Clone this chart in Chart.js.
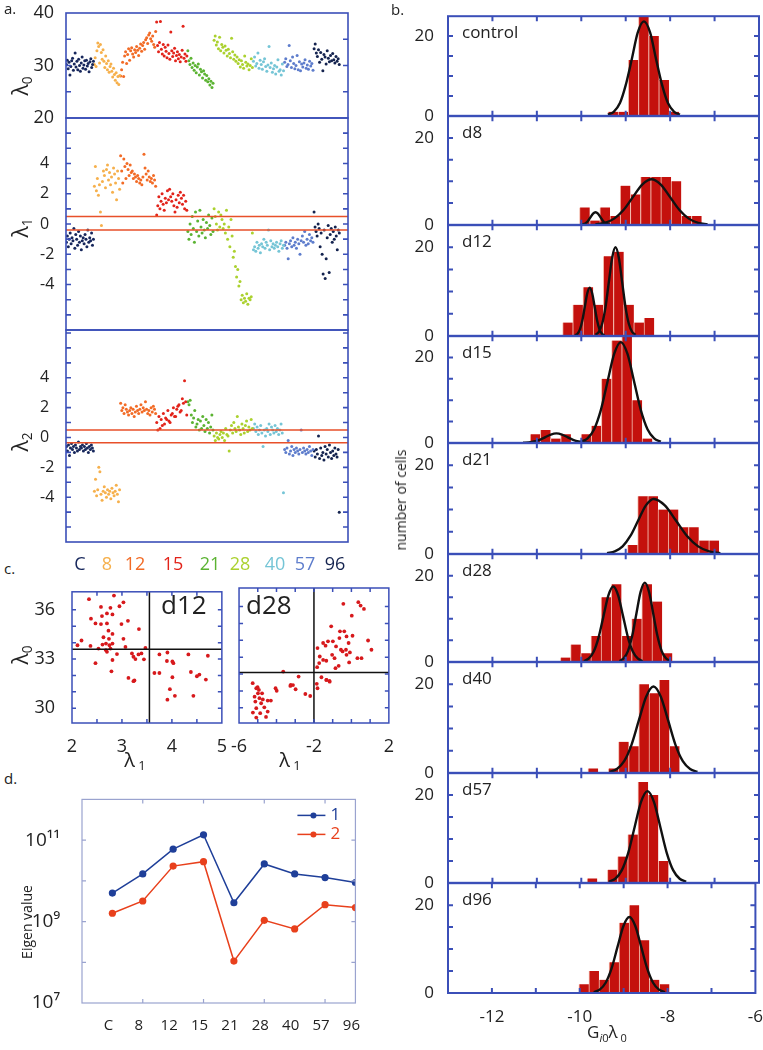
<!DOCTYPE html>
<html>
<head>
<meta charset="utf-8">
<script src="https://cdn.jsdelivr.net/npm/chart.js@4/dist/chart.umd.min.js"></script>
<style>
body { margin: 0; background: #fff; }
#fig { position: relative; width: 763px; height: 1050px; overflow: hidden; font-family: 'Open Sans', sans-serif; color: #222; }
#fig canvas { position: absolute; }
.t { position: absolute; white-space: nowrap; line-height: 1; z-index: 2; }
.c { transform: translate(-50%, -50%); }
.rot { transform: translate(-50%, -50%) rotate(-90deg); }
sub { font-size: 0.65em; vertical-align: -0.3em; }
</style>
</head>
<body>
<div id="fig"></div>
<script>
// ---- panel a: per-cell eigenvalues, grouped by day ----
const days = ['C', '8', '12', '15', '21', '28', '40', '57', '96'];
const dayColors = ['#17275c', '#f6b04c', '#f26b26', '#e2231a', '#5bb332', '#abd12f', '#75c5d6', '#5e7dcc', '#14234f'];
const dayLabelPos = [8, 24.5, 41.6, 64.8, 87.3, 105.6, 127, 145.3, 163.6];
const groupSpan = [17, 16, 22, 19, 16, 24, 19, 18, 16];   // width of each day block, in cell-index units

const lam0 = [
  [30.2,31.0,29.4,30.6,28.2,29.8,30.9,31.4,29.1,30.3,32.4,29.7,30.8,29.2,31.2,30.0,28.9,30.5,31.6,29.5,30.1,30.9,29.3,31.0,29.9,30.4,28.8,30.7,31.3,29.6,30.2,30.8],
  [30.2,31.5,29.8,32.8,34.3,33.6,30.5,34.0,32.5,31.2,33.0,30.8,29.6,31.8,30.4,29.2,30.9,28.7,29.8,30.3,28.9,27.8,29.5,28.3,27.2,28.6,26.7,27.9,26.4,28.1],
  [28.0,29.2,30.6,27.9,31.8,32.6,30.4,32.1,33.2,31.0,32.8,33.4,32.2,31.6,33.0,32.5,33.6,32.9,31.9,33.3,34.1,32.7,33.8,34.4,33.1,34.9,35.3,34.2,35.8,36.2,35.1,34.6,35.6,34.0,33.5,36.5],
  [38.3,33.8,32.6,34.4,38.4,33.1,32.2,34.0,31.8,33.5,32.7,31.5,33.9,32.3,31.2,36.4,32.8,31.7,32.4,33.3,30.9,31.9,32.6,31.3,32.1,30.7,31.6,32.9,37.5,31.4,32.2,30.8,31.8],
  [32.8,30.9,30.2,31.4,29.6,30.5,29.1,30.0,28.6,29.7,30.3,28.2,29.3,28.8,27.6,29.0,28.4,27.2,28.1,26.9,27.5,26.3,27.0,25.8,26.6],
  [34.8,35.6,33.9,34.5,33.2,35.4,32.8,34.0,33.5,32.4,33.7,32.9,31.8,33.1,32.3,31.5,35.2,32.6,31.2,32.0,30.8,31.6,30.4,31.1,29.7,30.9,30.2,29.5,31.8,30.6,29.9,30.3,29.2,30.0,31.3,29.6],
  [30.8,31.6,29.9,30.4,32.4,29.5,31.0,30.2,29.3,30.7,31.3,29.8,28.9,30.1,33.6,29.6,30.5,28.7,29.4,30.0,28.4,29.7,31.1,28.9,29.2,28.2,30.3,29.0],
  [30.6,31.3,29.8,30.2,33.8,30.9,29.6,31.6,30.4,29.4,30.0,31.9,29.2,30.7,29.0,30.3,29.7,30.5,31.1,29.5,30.1,29.3,30.8,29.9,30.4,29.1],
  [33.2,34.1,32.4,31.7,33.0,30.6,32.5,31.2,29.0,32.1,31.6,30.3,32.8,31.4,30.7,31.9,30.9,32.3,31.1,30.5,31.7,30.8,31.3,30.2]
];
const lam1 = [
  [-1.2,-0.8,-1.5,-1.0,-0.6,-1.3,-0.9,-1.1,-0.3,-1.6,-0.7,-1.0,-1.4,-0.5,-1.2,-0.8,-1.7,-1.1,-0.9,-1.3,-0.7,-1.0,-1.5,-0.4,-1.2,-0.9,-1.1,-0.6,-1.4,-1.0],
  [2.5,3.8,2.2,3.0,1.9,2.6,0.8,-0.1,2.8,3.5,3.2,2.4,3.6,3.9,2.9,3.4,2.6,3.1,2.1,3.7,3.3,2.7,1.6,3.5,3.0,2.3],
  [4.5,3.5,2.7,4.3,3.8,3.0,4.0,3.6,3.2,3.9,3.4,3.5,3.0,3.3,3.1,2.8,3.2,3.0,2.7,2.9,2.6,3.1,4.6,3.7,3.3,2.9,3.5,3.1,2.8,3.0,2.7,3.2,2.9,2.5],
  [0.6,1.2,1.8,1.0,1.5,2.0,1.3,0.9,1.7,1.4,2.2,1.6,2.3,1.8,1.5,2.0,1.2,0.8,1.6,1.1,1.9,1.4,2.1,1.7,1.3,1.9,1.0,1.5,0.9],
  [-0.5,-1.0,0.0,-0.7,0.5,-0.3,-1.2,0.8,-0.5,0.2,-0.8,0.9,-0.2,-0.6,0.3,-0.4,-0.9,0.1,-0.3,0.6,-0.1,-0.7,0.4,-0.5],
  [1.0,0.5,0.0,-0.4,0.8,-0.2,0.6,0.3,-0.3,0.0,-0.6,0.9,-1.0,-0.2,-1.5,0.3,-0.8,-2.2,-1.8,-2.8,-3.5,-3.0,-4.1,-3.8,-5.0,-4.7,-5.2,-4.9,-5.1,-4.6,-5.3,-4.9,-5.0,-4.8,-0.6],
  [-1.7,-1.5,-1.8,-1.2,-1.6,-1.4,-1.9,-1.3,-1.5,-1.0,-1.6,-1.2,-1.4,-0.4,-1.7,-1.1,-1.5,-1.3,-1.6,-1.4,-1.2,-1.5,-1.8,-1.3,-1.1,-1.6,-1.4],
  [-1.4,-1.2,-1.6,-2.3,-1.3,-1.1,-1.5,-0.9,-1.4,-1.2,-1.6,-1.0,-1.3,-2.0,-1.1,-0.8,-1.2,-0.5,-1.4,-1.0,-1.3,-0.7,-1.1,-0.9,-1.2],
  [0.8,-0.2,-0.5,-0.8,0.0,-0.3,-1.5,-0.6,-2.0,-3.3,-0.4,-3.6,-2.3,-0.9,-0.1,-3.2,-0.7,-0.3,-1.2,-0.5,-1.0,-0.2,-0.8,-1.7,-0.4,-0.6]
];
const lam2 = [
  [-0.6,-0.9,-0.5,-1.2,-0.7,-0.4,-0.8,-0.6,-1.0,-0.5,-0.7,-0.9,-0.3,-0.8,-0.6,-0.7,-0.5,-0.9,-0.6,-0.8,-0.4,-0.7,-1.0,-0.6,-0.8,-0.5,-0.7,-0.9],
  [-3.6,-2.8,-3.9,-3.5,-2.0,-2.3,-3.8,-4.2,-3.6,-3.3,-3.7,-4.0,-3.5,-3.8,-3.6,-4.1,-3.4,-3.7,-3.9,-3.6,-3.2,-3.8,-4.3,-3.5],
  [2.3,1.8,2.0,1.6,2.2,1.9,1.7,1.5,1.8,2.0,1.6,1.9,1.4,1.7,2.1,1.8,1.6,1.9,2.2,1.7,2.0,1.8,2.4,1.9,1.6,1.8,1.5,2.0,1.7,2.1,1.9,1.6],
  [1.0,0.5,1.4,0.6,1.2,0.8,1.6,0.9,1.3,1.2,1.8,1.1,1.0,1.5,1.6,2.0,1.4,1.4,1.9,2.1,2.2,1.7,1.8,2.6,2.3,3.8,2.4,1.5],
  [2.4,2.2,2.5,1.5,1.0,1.3,1.8,0.7,0.9,1.2,0.5,1.1,0.6,1.4,0.8,0.4,1.2,0.6,1.0,0.3,0.7,1.5,0.5],
  [0.1,-0.2,0.3,0.0,-0.1,0.2,0.4,0.0,0.3,-0.2,0.6,0.2,0.1,-0.9,0.5,0.8,0.3,1.0,0.6,0.4,1.4,0.7,0.5,0.2,0.9,0.6,0.3,0.8,1.1,0.4,0.7,0.5,1.2,0.6],
  [0.6,0.9,0.4,0.7,0.2,0.5,0.8,0.3,-0.6,0.5,0.1,0.6,0.4,0.9,0.2,0.7,0.5,0.3,0.8,0.4,0.6,0.2,0.5,0.9,0.3,-3.7],
  [-0.8,-1.0,-0.7,-0.2,-1.1,-0.9,-0.6,-1.2,-0.8,-1.0,-0.7,-0.9,-1.1,-0.8,0.5,-1.0,-0.7,-0.9,-1.1,-0.8,-1.0,-0.6,-0.9,-1.2,-0.8],
  [-0.9,-1.3,-0.8,-1.1,0.1,-1.4,-0.7,-1.2,-1.0,-1.5,-0.6,-1.1,-0.8,-1.3,-0.5,-1.0,-1.4,-0.9,-1.2,-0.7,-1.1,-1.3,-0.8,-5.0]
];
const lam1Cut = [0.5, -0.4];
const lam2Cut = [0.5, -0.35];

// ---- panel b: histograms of G_i0 * lambda_0 ----
const histNames = ['control', 'd8', 'd12', 'd15', 'd21', 'd28', 'd40', 'd57', 'd96'];
const binWidth = 0.229;
const histStart = [-9.40, -10.04, -10.42, -11.15, -8.96, -10.47, -9.85, -9.87, -10.02];
const histCounts = [
  [1, 1, 14, 26, 20, 9, 1],
  [4, 1, 4, 2, 9, 7, 11, 11, 11, 10, 2, 2],
  [3, 7, 11, 7, 18, 19, 7, 3, 4],
  [2, 3, 1, 2, 0, 2, 4, 15, 24, 27, 10, 1],
  [2, 13, 13, 10, 10, 6, 6, 3, 3],
  [1, 4, 2, 6, 15, 18, 6, 10, 18, 14, 2],
  [1, 0, 1, 7, 6, 20, 18, 21, 6],
  [1, 0, 3, 6, 11, 23, 20, 5],
  [2, 5, 3, 7, 16, 20, 12, 3, 2]
];
// fitted curves: [xs, ys] per curve
const fitCurves = [
  [[[-9.40, -9.27, -9.13, -9.00, -8.86, -8.73, -8.59, -8.45, -8.32, -8.18, -8.05, -7.91, -7.78],
    [0.3, 1.0, 3.2, 7.7, 14.4, 20.9, 23.7, 20.9, 14.4, 7.7, 3.2, 1.0, 0.3]]],
  [[[-10.01, -9.955, -9.90, -9.845, -9.79, -9.735, -9.68, -9.625, -9.57, -9.515, -9.46, -9.405, -9.35],
    [0.03, 0.13, 0.39, 0.94, 1.76, 2.56, 2.9, 2.56, 1.76, 0.94, 0.39, 0.13, 0.03]],
   [[-9.68, -9.47, -9.26, -9.05, -8.84, -8.63, -8.42, -8.21, -8.00, -7.79, -7.58, -7.37, -7.16],
    [0.12, 0.46, 1.42, 3.41, 6.37, 9.27, 10.5, 9.27, 6.37, 3.41, 1.42, 0.46, 0.12]]],
  [[[-10.14, -10.085, -10.03, -9.975, -9.92, -9.865, -9.81, -9.755, -9.70, -9.645, -9.59, -9.535, -9.48],
    [0.12, 0.48, 1.47, 3.54, 6.61, 9.62, 10.9, 9.62, 6.61, 3.54, 1.47, 0.48, 0.12]],
   [[-9.68, -9.605, -9.53, -9.455, -9.38, -9.305, -9.23, -9.155, -9.08, -9.005, -8.93, -8.855, -8.78],
    [0.22, 0.88, 2.71, 6.49, 12.13, 17.65, 20, 17.65, 12.13, 6.49, 2.71, 0.88, 0.22]]],
  [[[-11.31, -11.185, -11.06, -10.935, -10.81, -10.685, -10.56, -10.435, -10.31, -10.185, -10.06, -9.935, -9.81],
    [0.02, 0.1, 0.3, 0.71, 1.33, 1.94, 2.2, 1.94, 1.33, 0.71, 0.3, 0.1, 0.02]],
   [[-10.01, -9.86, -9.71, -9.56, -9.41, -9.26, -9.11, -8.96, -8.81, -8.66, -8.51, -8.36, -8.21],
    [0.26, 1.04, 3.19, 7.66, 14.31, 20.83, 23.6, 20.83, 14.31, 7.66, 3.19, 1.04, 0.26]]],
  [[[-9.42, -9.245, -9.07, -8.895, -8.72, -8.545, -8.37, -8.12, -7.87, -7.62, -7.37, -7.12, -6.87],
    [0.14, 0.54, 1.68, 4.03, 7.52, 10.94, 12.4, 10.94, 7.52, 4.03, 1.68, 0.54, 0.14]]],
  [[[-9.94, -9.83, -9.72, -9.61, -9.50, -9.39, -9.28, -9.17, -9.06, -8.95, -8.84, -8.73, -8.62],
    [0.19, 0.77, 2.37, 5.68, 10.61, 15.44, 17.5, 15.44, 10.61, 5.68, 2.37, 0.77, 0.19]],
   [[-9.14, -9.045, -8.95, -8.855, -8.76, -8.665, -8.57, -8.475, -8.38, -8.285, -8.19, -8.095, -8.00],
    [0.2, 0.81, 2.49, 5.97, 11.16, 16.24, 18.4, 16.24, 11.16, 5.97, 2.49, 0.81, 0.2]]],
  [[[-9.365, -9.20, -9.035, -8.87, -8.705, -8.54, -8.375, -8.21, -8.045, -7.88, -7.715, -7.55, -7.385],
    [0.22, 0.86, 2.64, 6.33, 11.83, 17.21, 19.5, 17.21, 11.83, 6.33, 2.64, 0.86, 0.22]]],
  [[[-9.38, -9.235, -9.09, -8.945, -8.80, -8.655, -8.51, -8.365, -8.22, -8.075, -7.93, -7.785, -7.64],
    [0.23, 0.92, 2.83, 6.79, 12.68, 18.44, 20.9, 18.44, 12.68, 6.79, 2.83, 0.92, 0.23]]],
  [[[-9.68, -9.545, -9.41, -9.275, -9.14, -9.005, -8.87, -8.735, -8.60, -8.465, -8.33, -8.195, -8.06],
    [0.19, 0.76, 2.34, 5.62, 10.49, 15.27, 17.3, 15.27, 10.49, 5.62, 2.34, 0.76, 0.19]]]
];

// ---- panel c: lambda1 vs lambda0 for d12 and d28 ----
const d12Points = [[2.34,36.65],[2.84,36.87],[2.58,36.18],[2.77,36.12],[2.95,36.22],[3.03,36.46],[2.38,35.46],[2.47,35.17],
  [2.60,35.62],[2.70,35.78],[2.81,35.72],[2.58,35.13],[2.70,35.17],[2.99,35.13],[3.12,35.33],[3.34,34.83],[2.73,34.73],
  [2.81,34.53],[2.63,34.33],[2.74,34.23],[3.03,34.23],[2.11,33.84],[2.19,34.13],[2.37,33.80],[2.53,33.64],[2.61,33.88],
  [2.68,33.94],[2.75,33.84],[2.81,33.94],[2.68,33.54],[2.70,33.44],[2.77,33.64],[2.90,33.30],[3.07,33.74],[3.20,33.34],
  [3.23,33.14],[3.27,33.00],[3.33,33.28],[3.39,33.34],[3.44,32.98],[3.47,33.68],[2.47,32.75],[2.81,32.94],[2.79,32.25],
  [3.13,31.85],[3.25,31.69],[3.75,33.28],[3.91,33.40],[3.90,32.88],[4.01,32.85],[4.03,32.75],[4.33,33.28],[4.72,33.20],
  [3.65,32.15],[3.75,32.15],[4.01,31.89],[4.38,32.21],[4.50,31.95],[4.55,32.05],[4.68,31.75],[3.96,31.16],[3.91,30.52],
  [4.06,30.76],[4.43,30.76],[3.23,31.65]];
const d12Cut = [3.55, 33.6];
const d28Points = [[-0.43,36.16],[0.37,36.26],[0.49,36.06],[0.67,35.86],[0.02,35.46],[-1.08,34.83],[-0.61,34.53],[-0.38,34.53],
  [-0.64,34.13],[-0.26,34.23],[0.06,34.27],[-0.15,33.84],[-1.51,33.84],[-1.25,33.94],[-0.99,33.94],[0.89,33.99],[-1.81,33.54],
  [-1.38,33.68],[-0.82,33.64],[-0.56,33.44],[-0.47,33.34],[-0.29,33.44],[-0.08,33.28],[-0.26,33.14],[1.07,33.44],[-1.69,33.04],
  [-1.51,32.84],[-1.03,33.14],[-0.90,32.94],[0.32,32.94],[0.54,32.94],[-1.72,32.65],[-1.34,32.79],[-1.83,32.41],[-0.85,32.35],
  [-0.68,32.49],[-0.12,32.69],[-3.64,32.15],[-2.82,31.85],[-1.60,31.81],[-1.34,31.65],[-1.17,31.59],[-1.81,31.16],[-5.27,31.46],
  [-5.01,31.22],[-4.05,31.16],[-3.26,31.30],[-3.12,31.35],[-5.08,31.16],[-4.99,30.86],[-5.17,30.66],[-4.91,30.57],[-4.73,30.50],
  [-5.13,30.37],[-4.82,30.27],[-4.47,30.43],[-4.30,30.43],[-5.08,29.98],[-4.65,30.03],[-5.26,29.72],[-4.87,29.68],[-4.47,29.78],
  [-4.56,29.46],[-3.99,31.01],[-3.24,31.36],[-2.98,31.10],[-2.46,30.82],[-2.20,30.70],[-1.85,31.42],[-1.33,31.65],[-1.16,31.55],
  [-5.08,29.42],[-4.77,30.86],[-4.94,31.06]];
const d28Cut = [-2, 32.1];

// ---- panel d: eigen values per day ----
const eigen1 = [5.0e9, 1.48e10, 6.0e10, 1.35e11, 2.9e9, 2.6e10, 1.48e10, 1.2e10, 9.1e9];
const eigen2 = [1.6e9, 3.2e9, 2.3e10, 2.95e10, 1.07e8, 1.07e9, 6.6e8, 2.6e9, 2.2e9];
const eigenTicks = [1e7, 1e9, 1e11];
const eigenTickLabels = ['10\u2077', '10\u2079', '10\u00b9\u00b9'];

// ---------------------------------------------------------------
Chart.defaults.font.family = "'Open Sans', sans-serif";
Chart.defaults.color = '#222';
Chart.defaults.plugins.legend.display = false;
Chart.defaults.plugins.tooltip.enabled = false;

const blue = '#3b4fb8';
const fig = document.getElementById('fig');

const frame = {
  id: 'frame',
  afterDraw(chart, args, o) {
    if (!o.color) return;
    const {ctx, chartArea: a} = chart;
    const sx = chart.scales.x, sy = chart.scales.y;
    const L = o.len || 5;
    ctx.save();
    ctx.strokeStyle = o.color;
    ctx.lineWidth = o.width || 1.6;
    ctx.strokeRect(a.left, a.top, a.right - a.left, a.bottom - a.top);
    ctx.beginPath();
    (o.xt || []).forEach(v => {
      const p = sx.getPixelForValue(v);
      ctx.moveTo(p, a.bottom); ctx.lineTo(p, a.bottom - L);
      ctx.moveTo(p, a.top); ctx.lineTo(p, a.top + L);
    });
    (o.yt || []).forEach(v => {
      const p = sy.getPixelForValue(v);
      ctx.moveTo(a.left, p); ctx.lineTo(a.left + L, p);
      ctx.moveTo(a.right, p); ctx.lineTo(a.right - L, p);
    });
    ctx.stroke();
    ctx.restore();
  }
};

const cuts = {
  id: 'cuts',
  afterDatasetsDraw(chart, args, o) {
    if (!o.color) return;
    const {ctx, chartArea: a} = chart;
    ctx.save();
    ctx.strokeStyle = o.color;
    ctx.lineWidth = o.width || 1.5;
    ctx.beginPath();
    (o.h || []).forEach(v => {
      const p = chart.scales.y.getPixelForValue(v);
      ctx.moveTo(a.left, p); ctx.lineTo(a.right, p);
    });
    (o.v || []).forEach(v => {
      const p = chart.scales.x.getPixelForValue(v);
      ctx.moveTo(p, a.top); ctx.lineTo(p, a.bottom);
    });
    ctx.stroke();
    ctx.restore();
  }
};

const key = {
  id: 'key',
  afterDraw(chart, args, o) {
    if (!o.items) return;
    const {ctx, chartArea: a} = chart;
    ctx.save();
    o.items.forEach((it, i) => {
      const y = a.top + o.y + i * o.dy;
      const x0 = a.right - o.x;
      ctx.strokeStyle = it.color;
      ctx.fillStyle = it.color;
      ctx.lineWidth = 1.5;
      ctx.beginPath(); ctx.moveTo(x0, y); ctx.lineTo(x0 + 28, y); ctx.stroke();
      ctx.beginPath(); ctx.arc(x0 + 16, y, 3, 0, Math.PI * 2); ctx.fill();
      ctx.font = "17px 'Open Sans'";
      ctx.textBaseline = 'middle';
      ctx.fillText(it.label, x0 + 33, y);
    });
    ctx.restore();
  }
};

function fixTicks(vals) {
  return s => { s.ticks = vals.map(v => ({value: v})); };
}

const noLines = {grid: {display: false}, border: {display: false}};

function mk(box, pad0, cfg) {
  // keep room above/below for half a tick label, or Chart.js shrinks the plot
  const pad = {...pad0, t: Math.max(pad0.t, 16), b: Math.max(pad0.b, 16)};
  const c = document.createElement('canvas');
  c.width = box.r - box.l + pad.l + pad.r;
  c.height = box.b - box.t + pad.t + pad.b;
  c.style.left = (box.l - pad.l) + 'px';
  c.style.top = (box.t - pad.t) + 'px';
  fig.appendChild(c);
  const o = cfg.options;
  o.responsive = false;
  o.animation = false;
  o.events = [];
  o.layout = {padding: {top: pad.t, right: pad.r, bottom: 0, left: 0}};
  o.scales.x.afterFit = s => { s.height = pad.b; };
  o.scales.y.afterFit = s => { s.width = pad.l; };
  cfg.plugins = [frame, cuts, key];
  return new Chart(c, cfg);
}

function label(html, x, y, size, cls) {
  const d = document.createElement('div');
  d.className = 't' + (cls ? ' ' + cls : '');
  d.innerHTML = html;
  d.style.left = x + 'px';
  d.style.top = y + 'px';
  d.style.fontSize = size + 'px';
  fig.appendChild(d);
}

// ---- panel a ----
function lamSets(vals) {
  let start = 0;
  return vals.map((g, k) => {
    const s = start, w = groupSpan[k];
    start += w;
    return {
      data: g.map((v, i) => ({x: s + (i + 0.5) * w / g.length - 0.5, y: v})),
      backgroundColor: dayColors[k], pointRadius: 1.5, borderWidth: 0
    };
  });
}

function lamChart(vals, box, pad, y, cut, showX) {
  const x = {type: 'linear', min: -0.5, max: 171.5, ...noLines,
    ticks: {display: false}};
  if (showX) {
    x.afterBuildTicks = fixTicks(dayLabelPos);
    x.ticks = {display: true, autoSkip: false, maxRotation: 0, padding: 4, font: {size: 18},
      callback: (v, i) => days[i], color: c => dayColors[c.index]};
  }
  mk(box, pad, {
    type: 'scatter',
    data: {datasets: lamSets(vals)},
    options: {
      scales: {x, y},
      plugins: {
        frame: {color: blue, width: 1.6, yt: y.inner},
        cuts: cut ? {color: '#e8502a', width: 1.5, h: cut} : {}
      }
    }
  });
}

lamChart(lam0, {l: 66, t: 13, r: 348, b: 118}, {l: 66, t: 14, r: 4, b: 12},
  {min: 20, max: 40, ...noLines, afterBuildTicks: fixTicks([20, 30, 40]),
   ticks: {font: {size: 18}, padding: 4}, inner: [25, 30, 35]}, null, false);
lamChart(lam1, {l: 66, t: 118, r: 348, b: 330}, {l: 26, t: 4, r: 4, b: 12},
  {min: -7, max: 7, ...noLines, afterBuildTicks: fixTicks([-4, -2, 0, 2, 4]),
   ticks: {font: {size: 16}, crossAlign: 'far'}, inner: [-6, -5, -4, -3, -2, -1, 0, 1, 2, 3, 4, 5, 6]}, lam1Cut, false);
lamChart(lam2, {l: 66, t: 330, r: 348, b: 542}, {l: 26, t: 4, r: 4, b: 30},
  {min: -7, max: 7.2, ...noLines, afterBuildTicks: fixTicks([-4, -2, 0, 2, 4]),
   ticks: {font: {size: 16}, crossAlign: 'far'}, inner: [-6, -5, -4, -3, -2, -1, 0, 1, 2, 3, 4, 5, 6, 7]}, lam2Cut, true);

// ---- panel b ----
const histTop = [16, 116, 225, 336, 443, 554, 662, 773, 883];
const histBottom = [116, 225, 336, 443, 554, 662, 773, 883, 993];
histNames.forEach((name, k) => {
  const last = k === histNames.length - 1;
  const bars = histCounts[k].map((c, i) => ({x: histStart[k] + (i + 0.5) * binWidth, y: c}));
  const curves = fitCurves[k].map(cv => ({
    type: 'line', order: 0,
    data: cv[0].map((x, i) => ({x, y: cv[1][i]})),
    borderColor: '#111', borderWidth: 2.4, pointRadius: 0, cubicInterpolationMode: 'monotone'
  }));
  mk({l: 448, t: histTop[k], r: 759, b: histBottom[k]},
     {l: 40, t: 12, r: last ? 10 : 4, b: last ? 34 : 12}, {
    type: 'bar',
    data: {datasets: [...curves, {
      order: 1, data: bars, backgroundColor: '#c4110d',
      borderColor: '#f3b9aa', borderWidth: {left: 1, right: 0, top: 0, bottom: 0},
      barPercentage: 1, categoryPercentage: 1
    }]},
    options: {
      scales: {
        x: {type: 'linear', min: -13, max: -6, offset: false, ...noLines,
            afterBuildTicks: fixTicks([-12, -10, -8, -6]),
            ticks: {display: last, font: {size: 17}, padding: 6, maxRotation: 0}},
        y: {min: 0, max: 25, ...noLines, afterBuildTicks: fixTicks([0, 20]),
            ticks: {font: {size: 17}, padding: 6}}
      },
      plugins: {frame: {color: blue, width: 2, xt: [-12, -11, -10, -9, -8, -7], yt: [5, 10, 15, 20]}}
    }
  });
  label(name, 462, histTop[k] + 7, 17);
});

// ---- panel c ----
function cChart(points, cut, box, pad, x, showY, xt) {
  mk(box, pad, {
    type: 'scatter',
    data: {datasets: [{data: points.map(p => ({x: p[0], y: p[1]})),
      backgroundColor: '#d7191c', pointRadius: 1.9, borderWidth: 0}]},
    options: {
      scales: {
        x: {...x, ...noLines, ticks: {font: {size: 18}, padding: 5, maxRotation: 0}},
        y: {min: 29.1, max: 37.1, ...noLines, afterBuildTicks: fixTicks([30, 33, 36]),
            ticks: {display: showY, font: {size: 18}, padding: 9}}
      },
      plugins: {
        frame: {color: blue, width: 1.5, len: 4, xt, yt: [30, 31, 32, 33, 34, 35, 36]},
        cuts: {color: '#111', width: 1.5, v: [cut[0]], h: [cut[1]]}
      }
    }
  });
}
cChart(d12Points, d12Cut, {l: 72, t: 588, r: 226, b: 723}, {l: 40, t: 8, r: 6, b: 30},
  {min: 2, max: 5, afterBuildTicks: fixTicks([2, 3, 4, 5])}, true, [2.5, 3, 3.5, 4, 4.5]);
cChart(d28Points, d28Cut, {l: 236, t: 588, r: 389, b: 723}, {l: 10, t: 8, r: 10, b: 30},
  {min: -6, max: 2, afterBuildTicks: fixTicks([-6, -2, 2])}, false, [-5, -4, -3, -2, -1, 0, 1]);

// ---- panel d ----
mk({l: 82, t: 790, r: 360, b: 1003}, {l: 60, t: 10, r: 10, b: 30}, {
  type: 'line',
  data: {datasets: [
    {data: eigen1.map((v, i) => ({x: i, y: v})), borderColor: '#1f3f99', backgroundColor: '#1f3f99',
     borderWidth: 1.5, pointRadius: 3.6, pointBorderWidth: 0},
    {data: eigen2.map((v, i) => ({x: i, y: v})), borderColor: '#e8401c', backgroundColor: '#e8401c',
     borderWidth: 1.5, pointRadius: 3.6, pointBorderWidth: 0}
  ]},
  options: {
    scales: {
      x: {type: 'linear', min: -1, max: 8, ...noLines, afterBuildTicks: fixTicks([0, 1, 2, 3, 4, 5, 6, 7, 8]),
          ticks: {font: {size: 15}, padding: 6, labelOffset: -4, autoSkip: false, maxRotation: 0,
                  callback: (v, i) => days[i]}},
      y: {type: 'logarithmic', min: 1e7, max: 1e12, ...noLines, afterBuildTicks: fixTicks(eigenTicks),
          ticks: {font: {size: 19}, padding: 14, callback: (v, i) => eigenTickLabels[i]}}
    },
    plugins: {
      frame: {color: '#9aa3cf', width: 1.2, len: 4, xt: [1, 3, 5, 7], yt: [1e8, 1e9, 1e10, 1e11]},
      key: {x: 58, y: 16, dy: 19, items: [{label: '1', color: '#1f3f99'}, {label: '2', color: '#e8401c'}]}
    }
  }
});

// ---- text ----
label('a.', 4, 1, 15);
label('b.', 391, 2, 15);
label('c.', 4, 561, 15);
label('d.', 4, 771, 15);
label('λ<sub>0</sub>', 22, 86, 21, 'rot');
label('λ<sub>1</sub>', 22, 228, 21, 'rot');
label('λ<sub>2</sub>', 22, 442, 21, 'rot');
label('number of cells', 401, 500, 14, 'rot');
label('G<sub><i>i</i>0</sub>λ<sub> 0</sub>', 607, 1033, 17, 'c');
label('λ<sub>0</sub>', 22, 655, 21, 'rot');
label('λ<sub> 1</sub>', 135, 761, 20, 'c');
label('λ<sub> 1</sub>', 290, 761, 20, 'c');
label('d12', 161, 591, 26);
label('d28', 246, 591, 26);
label('Eigen value', 27, 922, 14, 'rot');
</script>
</body>
</html>
